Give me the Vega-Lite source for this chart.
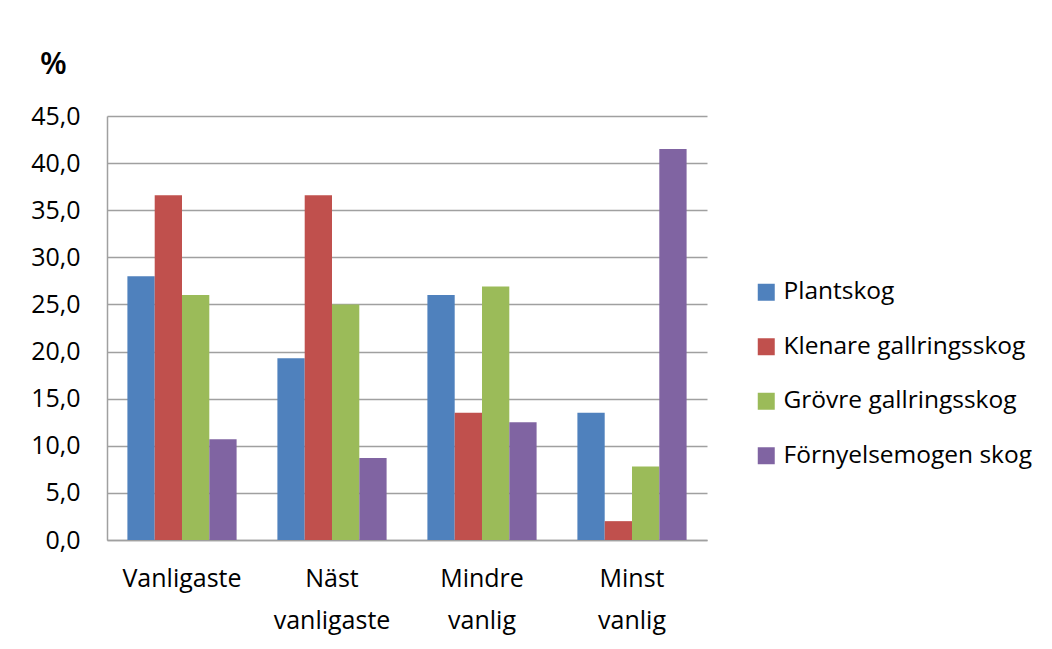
{
  "$schema": "https://vega.github.io/schema/vega-lite/v6.json",
  "width": 600,
  "height": 424,
  "autosize": "none",
  "padding": {"left": 107, "top": 116, "right": 345, "bottom": 109},
  "background": "white",
  "data": {
    "values": [
      {"kategori": "Vanligaste", "serie": "Plantskog", "v": 28.0},
      {"kategori": "Vanligaste", "serie": "Klenare gallringsskog", "v": 36.6},
      {"kategori": "Vanligaste", "serie": "Grövre gallringsskog", "v": 26.0},
      {"kategori": "Vanligaste", "serie": "Förnyelsemogen skog", "v": 10.7},
      {"kategori": "Näst vanligaste", "serie": "Plantskog", "v": 19.3},
      {"kategori": "Näst vanligaste", "serie": "Klenare gallringsskog", "v": 36.6},
      {"kategori": "Näst vanligaste", "serie": "Grövre gallringsskog", "v": 25.0},
      {"kategori": "Näst vanligaste", "serie": "Förnyelsemogen skog", "v": 8.7},
      {"kategori": "Mindre vanlig", "serie": "Plantskog", "v": 26.0},
      {"kategori": "Mindre vanlig", "serie": "Klenare gallringsskog", "v": 13.5},
      {"kategori": "Mindre vanlig", "serie": "Grövre gallringsskog", "v": 26.9},
      {"kategori": "Mindre vanlig", "serie": "Förnyelsemogen skog", "v": 12.5},
      {"kategori": "Minst vanlig", "serie": "Plantskog", "v": 13.5},
      {"kategori": "Minst vanlig", "serie": "Klenare gallringsskog", "v": 2.0},
      {"kategori": "Minst vanlig", "serie": "Grövre gallringsskog", "v": 7.8},
      {"kategori": "Minst vanlig", "serie": "Förnyelsemogen skog", "v": 41.5}
    ]
  },
  "mark": {"type": "bar"},
  "encoding": {
    "x": {
      "field": "kategori",
      "type": "nominal",
      "sort": ["Vanligaste", "Näst vanligaste", "Mindre vanlig", "Minst vanlig"],
      "scale": {"paddingInner": 0.272, "paddingOuter": 0.136},
      "axis": {
        "title": null,
        "labelAngle": 0,
        "ticks": false,
        "labelPadding": 26,
        "labelLineHeight": 42,
        "labelExpr": "datum.label == 'Vanligaste' ? datum.label : split(datum.label, ' ')"
      }
    },
    "xOffset": {
      "field": "serie",
      "type": "nominal",
      "sort": ["Plantskog", "Klenare gallringsskog", "Grövre gallringsskog", "Förnyelsemogen skog"],
      "scale": {"paddingInner": 0, "paddingOuter": 0}
    },
    "y": {
      "field": "v",
      "type": "quantitative",
      "scale": {"domain": [0, 45], "nice": false},
      "axis": {
        "title": "%",
        "titleAngle": 0,
        "titleX": -54,
        "titleY": -52,
        "titleAlign": "center",
        "titleBaseline": "middle",
        "titleFontWeight": 600,
        "titleFontSize": 31,
        "values": [0, 5, 10, 15, 20, 25, 30, 35, 40, 45],
        "labelExpr": "replace(format(datum.value, '.1f'), '.', ',')",
        "ticks": false,
        "labelPadding": 27,
        "grid": true
      }
    },
    "color": {
      "field": "serie",
      "type": "nominal",
      "sort": ["Plantskog", "Klenare gallringsskog", "Grövre gallringsskog", "Förnyelsemogen skog"],
      "scale": {
        "domain": ["Plantskog", "Klenare gallringsskog", "Grövre gallringsskog", "Förnyelsemogen skog"],
        "range": ["#4F81BD", "#C0504D", "#9BBB59", "#8064A2"]
      },
      "legend": {
        "title": null,
        "orient": "none",
        "legendX": 647,
        "legendY": 164,
        "symbolType": "square",
        "symbolSize": 289,
        "symbolStrokeWidth": 0,
        "labelOffset": 5,
        "rowPadding": 29.5,
        "labelFontSize": 24.5,
        "labelLimit": 400
      }
    }
  },
  "config": {
    "font": "Open Sans",
    "view": {"stroke": null},
    "axis": {
      "labelFont": "Open Sans",
      "titleFont": "Open Sans",
      "labelFontSize": 25,
      "labelColor": "#000000",
      "titleColor": "#000000",
      "domainColor": "#a0a0a0",
      "domainWidth": 1.5,
      "gridColor": "#a0a0a0",
      "gridWidth": 1.5
    },
    "legend": {"labelFont": "Open Sans", "labelColor": "#000000"}
  }
}
